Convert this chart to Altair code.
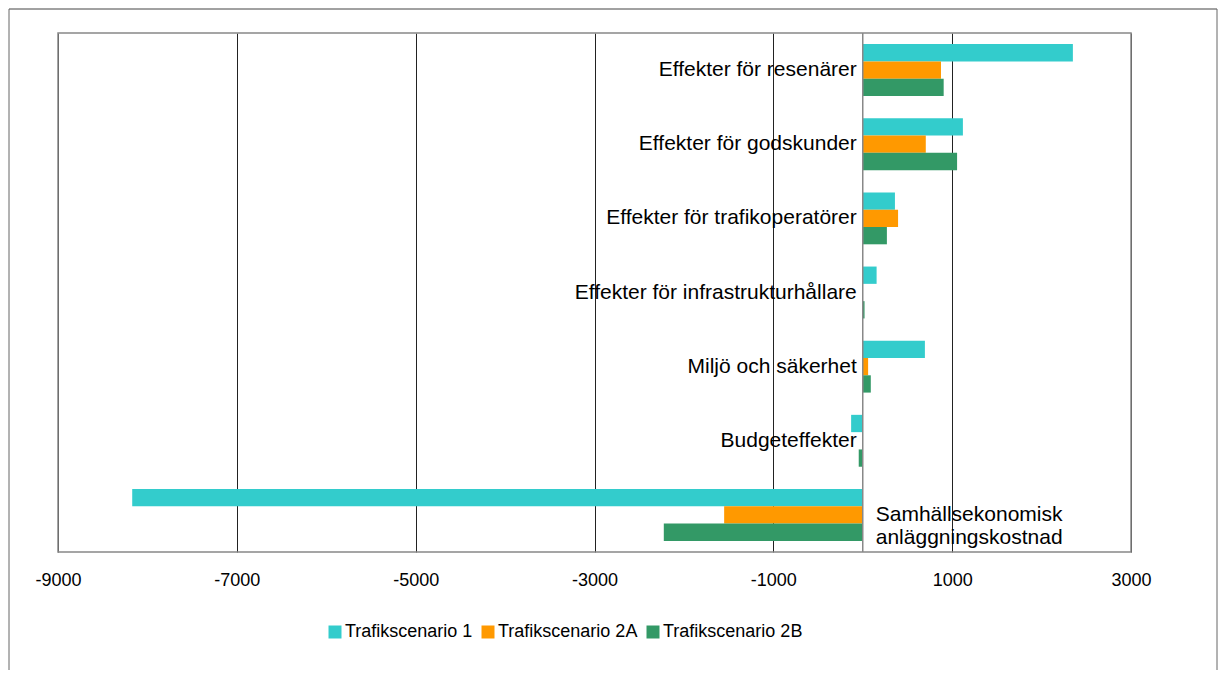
import altair as alt
import pandas as pd

categories = [
    "Effekter för resenärer",
    "Effekter för godskunder",
    "Effekter för trafikoperatörer",
    "Effekter för infrastrukturhållare",
    "Miljö och säkerhet",
    "Budgeteffekter",
    "Samhällsekonomisk anläggningskostnad",
]
label_text = [
    "Effekter för resenärer",
    "Effekter för godskunder",
    "Effekter för trafikoperatörer",
    "Effekter för infrastrukturhållare",
    "Miljö och säkerhet",
    "Budgeteffekter",
    "Samhällsekonomisk\nanläggningskostnad",
]
series = ["Trafikscenario 1", "Trafikscenario 2A", "Trafikscenario 2B"]
ts1 = [2350, 1120, 360, 155, 695, -130, -8170]
ts2a = [875, 705, 395, 0, 60, 0, -1550]
ts2b = [905, 1055, 270, 20, 90, -45, -2225]
x_ticks = [-9000, -7000, -5000, -3000, -1000, 1000, 3000]
colors = ["#33CCCC", "#FF9900", "#339966"]

rows = []
for s, vals in zip(series, [ts1, ts2a, ts2b]):
    for c, v in zip(categories, vals):
        rows.append({"kategori": c, "scenario": s, "varde": v})
df = pd.DataFrame(rows)
labels_df = pd.DataFrame({"kategori": categories, "etikett": label_text})

FONT = "Liberation Sans"
W, H = 1073, 519

x_scale = alt.Scale(domain=[-9000, 3000], nice=False, zero=False)
y_enc = alt.Y("kategori:N", sort=categories, axis=None,
              scale=alt.Scale(paddingInner=0.3, paddingOuter=0.15))

bars = alt.Chart(df).mark_bar(strokeWidth=0).encode(
    x=alt.X("varde:Q", scale=x_scale, title=None,
            axis=alt.Axis(values=x_ticks, grid=True, gridColor="#222222", gridWidth=1,
                          gridOpacity=1, domain=False, ticks=False, tickSize=0,
                          labelFont=FONT, labelFontSize=18, labelColor="black",
                          labelPadding=19, labelFlush=False,
                          labelExpr="'' + datum.value")),
    y=y_enc,
    yOffset=alt.YOffset("scenario:N", sort=series,
                        scale=alt.Scale(paddingInner=0, paddingOuter=0)),
    color=alt.Color("scenario:N", sort=series,
                    scale=alt.Scale(domain=series, range=colors),
                    legend=alt.Legend(title=None, orient="none", direction="horizontal",
                                      legendX=268, legendY=590, symbolType="square",
                                      symbolSize=169, symbolStrokeWidth=0,
                                      labelFont=FONT, labelFontSize=18, labelColor="black",
                                      labelOffset=1, columnPadding=6, labelLimit=400)),
)

zero_rule = alt.Chart(alt.Data(values=[{"z": 0}])).mark_rule(color="#888888", strokeWidth=1.5).encode(
    x=alt.X("z:Q", scale=x_scale)
)

pos_labels = alt.Chart(labels_df).transform_filter(
    alt.datum.kategori != categories[-1]
).mark_text(align="right", baseline="middle", dx=-6, font=FONT, fontSize=21, color="black").encode(
    x=alt.datum(0), y=y_enc, text="etikett:N"
)

neg_labels = alt.Chart(labels_df).transform_filter(
    alt.datum.kategori == categories[-1]
).mark_text(align="left", baseline="middle", dx=13, font=FONT, fontSize=21, color="black",
            lineBreak="\n", lineHeight=23).encode(
    x=alt.datum(0), y=y_enc, text="etikett:N"
)

frame_data = alt.Data(values=[{"a": 1}])
plot_frame = alt.Chart(frame_data).mark_rect(filled=False, stroke="#888888", strokeWidth=1.5).encode(
    x=alt.value(0), x2=alt.value(W), y=alt.value(0), y2=alt.value(H))
frame_top = alt.Chart(frame_data).mark_rule(color="#444444", strokeWidth=1).encode(
    x=alt.value(-49), x2=alt.value(1159), y=alt.value(-24))
frame_left = alt.Chart(frame_data).mark_rule(color="#666666", strokeWidth=1).encode(
    x=alt.value(-49), y=alt.value(-24), y2=alt.value(700))
frame_right = alt.Chart(frame_data).mark_rule(color="#666666", strokeWidth=1).encode(
    x=alt.value(1159), y=alt.value(-24), y2=alt.value(700))

chart = alt.layer(bars, zero_rule, pos_labels, neg_labels, plot_frame,
                  frame_top, frame_left, frame_right).properties(
    width=W, height=H,
    autosize=alt.AutoSizeParams(type="none"),
    padding={"left": 58, "top": 33, "right": 88, "bottom": 118},
    background="white",
).configure_view(stroke=None)

chart.save("out.html", embed_options={"renderer": "svg", "actions": False})
